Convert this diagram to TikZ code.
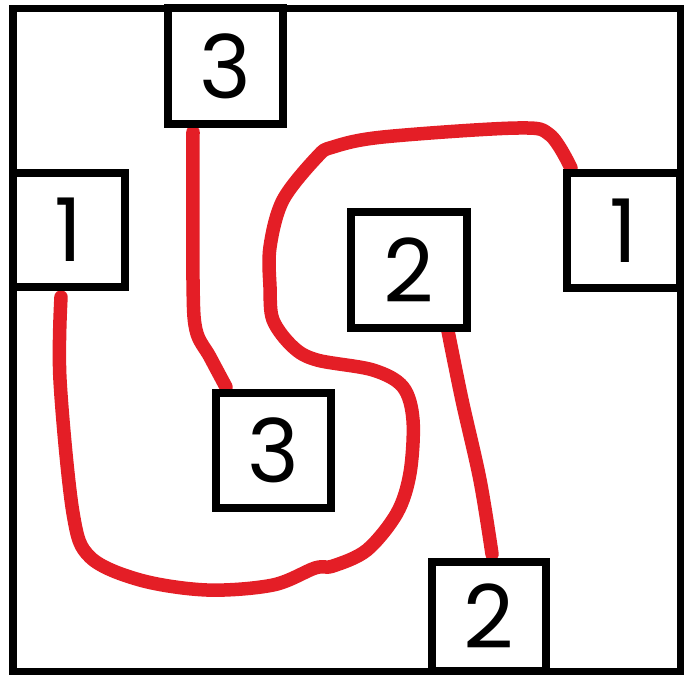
\documentclass[tikz,border=0pt]{standalone}
\usepackage{fontspec}
\setmainfont{Poppins}
\begin{document}
\begin{tikzpicture}[x=0.01cm,y=-0.01cm,
  frame/.style={draw=black,line width=0.07cm},
  numbox/.style={draw=black,fill=white,line width=0.075cm,inner sep=0pt,
    font=\fontsize{25}{30}\selectfont},
  link/.style={draw=linkred,line width=0.135cm,line cap=round,line join=round}]
\definecolor{linkred}{HTML}{E41E26}
\useasboundingbox (0,0) rectangle (694,675);
\draw[frame] (13,8) rectangle (680,671);
% links
\draw[link] plot[smooth,tension=0.55] coordinates {(193,132) (193,280) (196,330) (210,357) (226,387)};
\draw[link] plot[smooth,tension=0.55] coordinates {(61,297) (60,380) (73,513) (90,557) (140,580) (207,590) (273,585) (315,568) (333,566) (367,550) (397,513) (410,473) (413,420) (403,387) (373,370) (317,360) (293,347) (273,320) (270,287) (270,247) (283,200) (317,157) (333,147) (383,137) (517,128) (550,135) (571,168)};
\draw[link] plot[smooth,tension=0.55] coordinates {(448,331) (462,400) (480,480) (492,554)};
% boxes
\node[numbox,minimum width=1.15cm,minimum height=1.16cm] (t3) at (225.5,66) {3};
\node[numbox,minimum width=1.12cm,minimum height=1.14cm] (l1) at (69,230) {1};
\node[numbox,minimum width=1.16cm,minimum height=1.16cm] (c2) at (409,270) {2};
\node[numbox,minimum width=1.13cm,minimum height=1.15cm] (r1) at (623.5,230.5) {1};
\node[numbox,minimum width=1.15cm,minimum height=1.15cm] (m3) at (273.5,450.5) {3};
\node[numbox,minimum width=1.14cm,minimum height=1.09cm] (b2) at (489,616.5) {2};
\end{tikzpicture}
\end{document}
